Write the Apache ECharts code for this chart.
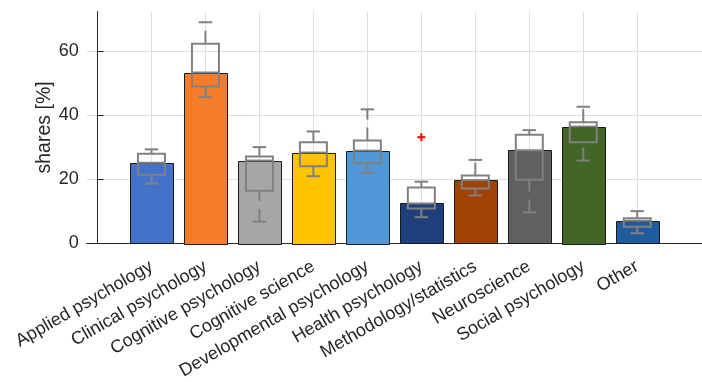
<!DOCTYPE html>
<html>
<head>
<meta charset="utf-8">
<script src="https://cdn.jsdelivr.net/npm/echarts@6/dist/echarts.min.js"></script>
<style>
html,body{margin:0;padding:0;background:#fff;}
#chart{width:702px;height:382px;}
</style>
</head>
<body>
<div id="chart"></div>
<script>
// ---- data ----
const categories = ['Applied psychology','Clinical psychology','Cognitive psychology','Cognitive science','Developmental psychology','Health psychology','Methodology/statistics','Neuroscience','Social psychology','Other'];
const barValues   = [25.1, 53.3, 25.8, 28.3, 28.9, 12.4, 19.7, 29.0, 36.4, 7.0];
const boxLow      = [18.6, 45.6, 6.7, 20.9, 22.0, 8.1, 14.9, 9.6, 25.8, 3.1];
const boxQ1       = [21.4, 48.9, 16.4, 24.0, 25.0, 10.8, 17.1, 19.8, 31.5, 5.1];
const boxMedian   = [25.1, 53.3, 25.8, 28.3, 28.9, 12.4, 19.7, 29.0, 36.4, 7.0];
const boxQ3       = [27.9, 62.3, 27.1, 31.5, 32.1, 17.4, 21.1, 33.9, 37.8, 7.8];
const boxHigh     = [29.3, 69.0, 30.0, 34.9, 41.8, 19.2, 26.0, 35.3, 42.6, 10.0];
const outliers    = [[6, 33.1]];
const barColors   = ['#4472C8','#F57C2A','#A6A6A6','#FFC300','#5196D6','#1F3F7A','#A24306','#606060','#426628','#1F5C9E'];
const yTicks      = [0, 20, 40, 60];
const xTicks      = [1,2,3,4,5,6,7,8,9,10];

const FONT = 'Liberation Sans, Arial, Helvetica, sans-serif';
const TXT = '#262626';
const BOXC = '#808080';

const barData = barValues.map((v, i) => [i + 1, v, i]);
const boxData = barValues.map((v, i) => [i + 1, boxLow[i], boxQ1[i], boxMedian[i], boxQ3[i], boxHigh[i]]);

const chart = echarts.init(document.getElementById('chart'), null, {renderer: 'canvas'});
chart.setOption({
  animation: false,
  backgroundColor: '#fff',
  grid: {left: 86.7, right: -7, top: 11.7, bottom: 138.3, containLabel: false},
  xAxis: {
    type: 'value', min: -0.2, max: 11.2,
    axisLine: {show: true, onZero: false, lineStyle: {color: TXT, width: 1}},
    axisTick: {show: true, inside: true, length: 6, customValues: xTicks, lineStyle: {color: TXT}},
    axisLabel: {
      customValues: xTicks, rotate: 30, margin: 22, fontSize: 18, fontFamily: FONT, color: TXT,
      formatter: v => categories[Math.round(v) - 1] || ''
    },
    splitLine: {show: true, lineStyle: {color: '#dfdfdf', width: 1}}
  },
  yAxis: {
    type: 'value', min: 0, max: 72.3,
    name: 'shares [%]', nameLocation: 'middle', nameGap: 32, nameRotate: 90, nameMoveOverlap: false,
    nameTextStyle: {fontSize: 19.5, fontFamily: FONT, color: TXT},
    axisLine: {show: true, lineStyle: {color: TXT, width: 1}},
    axisTick: {show: true, inside: true, length: 6, customValues: yTicks, lineStyle: {color: TXT}},
    axisLabel: {customValues: yTicks, margin: 8, fontSize: 18, fontFamily: FONT, color: TXT},
    splitLine: {show: true, lineStyle: {color: '#dfdfdf', width: 1}}
  },
  series: [
    {
      type: 'custom', name: 'bars', z: 2,
      data: barData,
      renderItem: (params, api) => {
        const x = api.value(0), v = api.value(1), idx = api.value(2);
        const p0 = api.coord([x - 0.4, v]);
        const p1 = api.coord([x + 0.4, 0]);
        return {
          type: 'rect',
          shape: {x: Math.round(p0[0]) + 0.5, y: Math.round(p0[1]) + 0.5, width: Math.round(p1[0] - p0[0]), height: Math.round(p1[1] - p0[1])},
          style: {fill: barColors[idx], stroke: '#1a1a1a', lineWidth: 1}
        };
      }
    },
    {
      type: 'custom', name: 'box', z: 3,
      data: boxData,
      renderItem: (params, api) => {
        const x = api.value(0);
        const lo = api.value(1), q1 = api.value(2), med = api.value(3), q3 = api.value(4), hi = api.value(5);
        const c = (xx, yy) => api.coord([xx, yy]);
        const st = {stroke: BOXC, lineWidth: 2, fill: null};
        const dash = {stroke: BOXC, lineWidth: 2, lineDash: [13, 8]};
        const bl = c(x - 0.25, q3), br = c(x + 0.25, q1);
        const children = [
          {type: 'line', shape: {x1: c(x, lo)[0], y1: c(x, lo)[1], x2: c(x, q1)[0], y2: c(x, q1)[1]}, style: dash},
          {type: 'line', shape: {x1: c(x, q3)[0], y1: c(x, q3)[1], x2: c(x, hi)[0], y2: c(x, hi)[1]}, style: dash},
          {type: 'line', shape: {x1: c(x - 0.125, lo)[0], y1: c(x, lo)[1], x2: c(x + 0.125, lo)[0], y2: c(x, lo)[1]}, style: st},
          {type: 'line', shape: {x1: c(x - 0.125, hi)[0], y1: c(x, hi)[1], x2: c(x + 0.125, hi)[0], y2: c(x, hi)[1]}, style: st},
          {type: 'rect', shape: {x: bl[0], y: bl[1], width: br[0] - bl[0], height: br[1] - bl[1]}, style: st},
          {type: 'line', shape: {x1: c(x - 0.25, med)[0], y1: c(x, med)[1], x2: c(x + 0.25, med)[0], y2: c(x, med)[1]}, style: st}
        ];
        return {type: 'group', children: children};
      }
    },
    {
      type: 'custom', name: 'outliers', z: 4,
      data: outliers,
      renderItem: (params, api) => {
        const p = api.coord([api.value(0), api.value(1)]);
        const s = 4;
        const st = {stroke: '#ff0000', lineWidth: 2};
        return {type: 'group', children: [
          {type: 'line', shape: {x1: p[0] - s, y1: p[1], x2: p[0] + s, y2: p[1]}, style: st},
          {type: 'line', shape: {x1: p[0], y1: p[1] - s, x2: p[0], y2: p[1] + s}, style: st}
        ]};
      }
    }
  ]
});
</script>
</body>
</html>
